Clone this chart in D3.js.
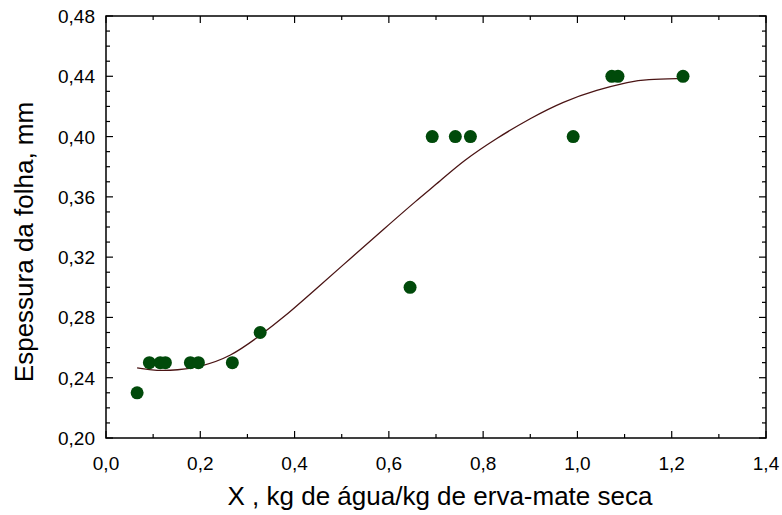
<!DOCTYPE html>
<html>
<head>
<meta charset="utf-8">
<style>
    body { margin: 0; background: #fff; }
    svg { font-family: 'Liberation Sans', Arial, sans-serif; }
    .tick-label { font-size: 19px; fill: #000; }
    .axis-title { font-size: 26px; fill: #000; }
</style>
</head>
<body>
<svg width="782" height="515"></svg>
<script src="https://d3js.org/d3.v7.min.js"></script>
<script>
    // measured points
    let pointX = [0.066, 0.092, 0.115, 0.126, 0.179, 0.196, 0.268, 0.327, 0.645, 0.692, 0.741, 0.773, 0.991, 1.073, 1.086, 1.224];
    let pointY = [0.23, 0.25, 0.25, 0.25, 0.25, 0.25, 0.25, 0.27, 0.30, 0.40, 0.40, 0.40, 0.40, 0.44, 0.44, 0.44];

    // fitted curve
    let curveX = [0.066, 0.108, 0.151, 0.200, 0.264, 0.327, 0.377, 0.447, 0.518, 0.589, 0.660, 0.709, 0.758, 0.829, 0.900, 0.970, 1.041, 1.112, 1.144, 1.224];
    let curveY = [0.2465, 0.2445, 0.245, 0.2472, 0.2538, 0.2680, 0.2800, 0.2993, 0.319, 0.3385, 0.3580, 0.3705, 0.3840, 0.399, 0.4122, 0.4233, 0.431, 0.4365, 0.4380, 0.4385];

    let xTicks = [0, 0.2, 0.4, 0.6, 0.8, 1.0, 1.2, 1.4];
    let yTicks = [0.20, 0.24, 0.28, 0.32, 0.36, 0.40, 0.44, 0.48];

    let margin = { top: 16, right: 16, bottom: 77, left: 106 };
    let width = 782, height = 515;

    let svg = d3.select("svg");

    let x = d3.scaleLinear().domain([0, 1.4]).range([margin.left, width - margin.right]);
    let y = d3.scaleLinear().domain([0.20, 0.48]).range([height - margin.bottom, margin.top]);

    let fmt = v => d3.format(".1f")(v).replace(".", ",");
    let fmtY = v => d3.format(".2f")(v).replace(".", ",");

    // inner ticks on all four sides
    let ticks = svg.append("g").attr("stroke", "#000").attr("stroke-width", 1.2);
    let xMinor = d3.range(0, 15).map(i => i / 10);
    let yMinor = d3.range(0, 29).map(i => 0.20 + i / 100);

    xMinor.forEach((v, i) => {
        let len = i % 2 == 0 ? 7 : 4;
        ticks.append("line").attr("x1", x(v)).attr("x2", x(v))
            .attr("y1", y(0.20)).attr("y2", y(0.20) - len);
        ticks.append("line").attr("x1", x(v)).attr("x2", x(v))
            .attr("y1", y(0.48)).attr("y2", y(0.48) + len);
    });
    yMinor.forEach((v, i) => {
        let len = i % 4 == 0 ? 7 : 4;
        ticks.append("line").attr("y1", y(v)).attr("y2", y(v))
            .attr("x1", x(0)).attr("x2", x(0) + len);
        ticks.append("line").attr("y1", y(v)).attr("y2", y(v))
            .attr("x1", x(1.4)).attr("x2", x(1.4) - len);
    });

    // frame
    svg.append("rect")
        .attr("x", x(0)).attr("y", y(0.48))
        .attr("width", x(1.4) - x(0)).attr("height", y(0.20) - y(0.48))
        .attr("fill", "none").attr("stroke", "#000").attr("stroke-width", 1.5);

    // tick labels
    svg.append("g").selectAll("text").data(xTicks).join("text")
        .attr("class", "tick-label")
        .attr("x", d => x(d)).attr("y", y(0.20) + 32)
        .attr("text-anchor", "middle")
        .text(fmt);

    svg.append("g").selectAll("text").data(yTicks).join("text")
        .attr("class", "tick-label")
        .attr("x", x(0) - 11).attr("y", d => y(d) + 7)
        .attr("text-anchor", "end")
        .text(fmtY);

    // axis titles
    svg.append("text").attr("class", "axis-title")
        .attr("x", 440).attr("y", 505)
        .attr("text-anchor", "middle")
        .text("X , kg de água/kg de erva-mate seca");

    svg.append("text").attr("class", "axis-title")
        .attr("transform", "translate(33,242) rotate(-90)")
        .attr("text-anchor", "middle")
        .text("Espessura da folha, mm");

    // fitted curve
    let line = d3.line()
        .x(d => x(d[0]))
        .y(d => y(d[1]))
        .curve(d3.curveBasis);

    svg.append("path")
        .datum(curveX.map((v, i) => [v, curveY[i]]))
        .attr("d", line)
        .attr("fill", "none")
        .attr("stroke", "#4a1414")
        .attr("stroke-width", 1.3);

    // data points
    svg.append("g").selectAll("circle")
        .data(pointX.map((v, i) => [v, pointY[i]]))
        .join("circle")
        .attr("cx", d => x(d[0]))
        .attr("cy", d => y(d[1]))
        .attr("r", 6.5)
        .attr("fill", "#004a0a");
</script>
</body>
</html>
